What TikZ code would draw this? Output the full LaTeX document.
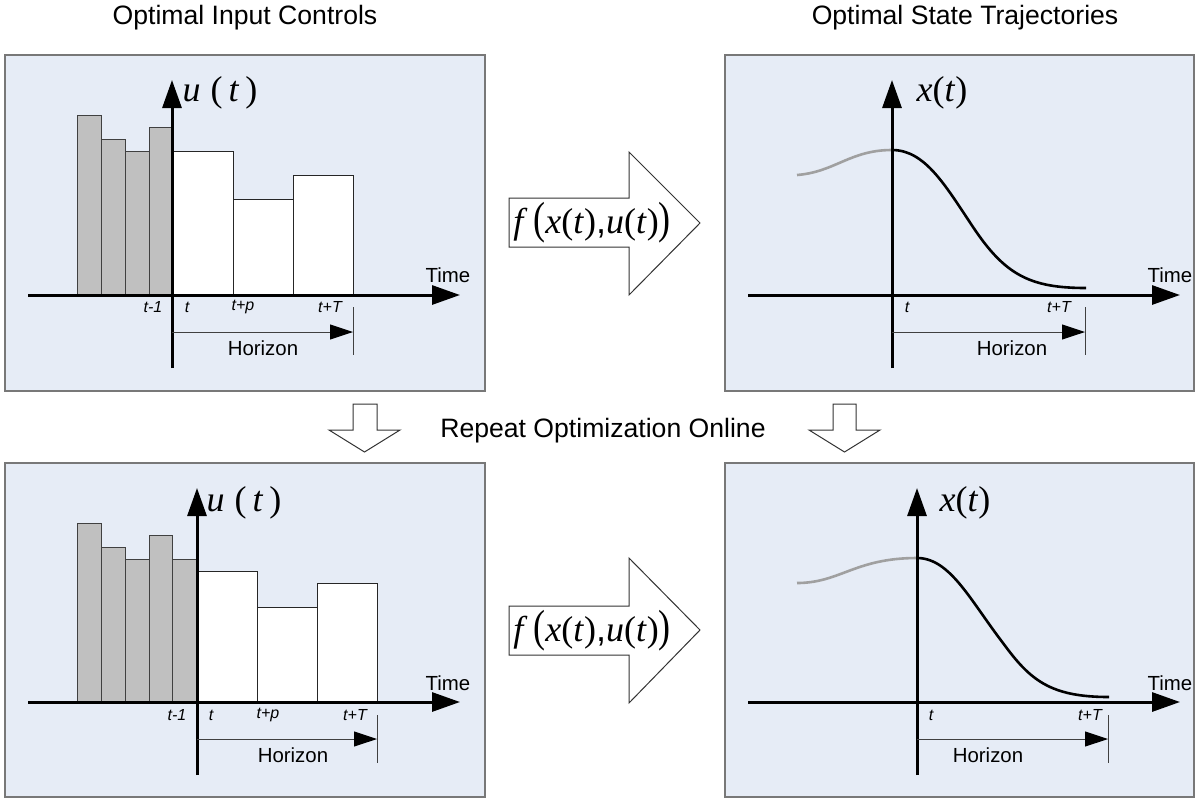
\documentclass[tikz,border=0pt]{standalone}
\usepackage{fontspec}
\usepackage{graphicx}
\setmainfont{Liberation Sans}
\newfontfamily\tnr{Liberation Serif}
\usetikzlibrary{arrows.meta}
\definecolor{panelfill}{RGB}{230,236,246}
\definecolor{panelline}{RGB}{120,120,120}
\definecolor{barfill}{RGB}{192,192,192}
\definecolor{pastcurve}{RGB}{160,160,160}
\definecolor{hzline}{RGB}{64,64,64}
\newcommand{\mvar}[1]{{\tnr\itshape #1\/}}
\newcommand{\mpar}[1]{{\tnr #1}}
\newcommand{\bigpar}[1]{\scalebox{1}[1.25]{\mpar{#1}}}
\begin{document}
\begin{tikzpicture}[x=0.5pt,y=-0.5pt,
  panel/.style={draw=panelline,line width=0.75pt,fill=panelfill},
  axis/.style={line width=1.5pt,-{Triangle[length=14pt,width=9.5pt]}},
  pastbar/.style={draw=black!75,line width=0.5pt,fill=barfill},
  futbar/.style={draw=black!85,line width=0.5pt,fill=white},
  hzarrow/.style={draw=hzline,line width=0.5pt,-{Triangle[length=11.5pt,width=7.5pt,color=black]}},
  hztick/.style={draw=hzline,line width=0.5pt},
  blockarrow/.style={draw=black!80,line width=0.5pt,fill=white},
  pastline/.style={draw=pastcurve,line width=1.3pt},
  futline/.style={draw=black,line width=1.3pt},
  titletext/.style={font=\fontsize{13.3pt}{16pt}\selectfont,inner sep=0pt},
  labtext/.style={font=\fontsize{10.2pt}{12pt}\selectfont,inner sep=0pt},
  ticktext/.style={font=\fontsize{8pt}{9.5pt}\selectfont\itshape,inner sep=0pt},
  mathtext/.style={font=\fontsize{18pt}{20pt}\selectfont,inner sep=0pt}
]
\useasboundingbox (0,0) rectangle (1199,799);

% titles
\node[titletext] (t1) at (245,18) {Optimal Input Controls};
\node[titletext] (t2) at (965,18) {Optimal State Trajectories};
\node[titletext] (rep) at (603,431) {Repeat Optimization Online};

% panels
\draw[panel] (5,55) rectangle (485,391);
\draw[panel] (725,55) rectangle (1194,391);
\draw[panel] (5,463) rectangle (485,797);
\draw[panel] (725,463) rectangle (1194,797);

%% ---------- top-left panel ----------
\draw[pastbar] (77,295) rectangle (101,115);
\draw[pastbar] (101,295) rectangle (125,139);
\draw[pastbar] (125,295) rectangle (149,151);
\draw[pastbar] (149,295) rectangle (172,127);
\draw[futbar] (172,295) rectangle (233,151);
\draw[futbar] (233,295) rectangle (293,199);
\draw[futbar] (293,295) rectangle (353,175);
\coordinate (axl) at (28,295);
\coordinate (axr) at (460,295);
\coordinate (ayb) at (172,368);
\coordinate (ayt) at (172,80);
\draw[axis] (axl) -- (axr);
\draw[axis] (ayb) -- (ayt);
\node[mathtext] (ua) at (220,93) {\mvar{u}\;\mpar{(}\,\mvar{t}\,\mpar{)}};
\node[labtext] (timea) at (448,275) {Time};
\node[ticktext] (ta1) at (153,307) {t-1};
\node[ticktext] (ta2) at (187,307) {t};
\node[ticktext] (ta3) at (243,307) {t+p};
\node[ticktext] (ta4) at (330,307) {t+T};
\coordinate (ahs) at (172,332);
\coordinate (ahe) at (353,332);
\coordinate (ahtt) at (353,307);
\coordinate (ahtb) at (353,355);
\draw[hzarrow] (ahs) -- (ahe);
\draw[hztick] (ahtt) -- (ahtb);
\node[labtext] (hza) at (263,348) {Horizon};

%% ---------- top-right panel ----------
\coordinate (bxl) at (748,295);
\coordinate (bxr) at (1180,295);
\coordinate (byb) at (892,368);
\coordinate (byt) at (892,80);
\coordinate (bc0) at (797,175);
\coordinate (bc1) at (892,150);
\coordinate (bc2) at (973,227);
\coordinate (bc3) at (1086,288);
\draw[pastline] (bc0) .. controls (835,172) and (850,150) .. (bc1);
\draw[futline] (bc1) .. controls (925,150) and (945,185) .. (bc2) .. controls (1005,275) and (1030,288) .. (bc3);
\draw[axis] (bxl) -- (bxr);
\draw[axis] (byb) -- (byt);
\node[mathtext] (xb) at (942,93) {\mvar{x}\mpar{(}\mvar{t}\mpar{)}};
\node[labtext] (timeb) at (1170,275) {Time};
\node[ticktext] (tb1) at (907,307) {t};
\node[ticktext] (tb2) at (1059,307) {t+T};
\coordinate (bhs) at (892,332);
\coordinate (bhe) at (1085,332);
\coordinate (bhtt) at (1085,307);
\coordinate (bhtb) at (1085,355);
\draw[hzarrow] (bhs) -- (bhe);
\draw[hztick] (bhtt) -- (bhtb);
\node[labtext] (hzb) at (1012,348) {Horizon};

%% ---------- bottom-left panel ----------
\draw[pastbar] (77,702) rectangle (101,523);
\draw[pastbar] (101,702) rectangle (125,547);
\draw[pastbar] (125,702) rectangle (149,559);
\draw[pastbar] (149,702) rectangle (172,535);
\draw[pastbar] (172,702) rectangle (197,559);
\draw[futbar] (197,702) rectangle (257,571);
\draw[futbar] (257,702) rectangle (317,607);
\draw[futbar] (317,702) rectangle (377,583);
\coordinate (cxl) at (28,702);
\coordinate (cxr) at (460,702);
\coordinate (cyb) at (197,775);
\coordinate (cyt) at (197,488);
\draw[axis] (cxl) -- (cxr);
\draw[axis] (cyb) -- (cyt);
\node[mathtext] (uc) at (244,503) {\mvar{u}\;\mpar{(}\,\mvar{t}\,\mpar{)}};
\node[labtext] (timec) at (448,683) {Time};
\node[ticktext] (tc1) at (177,715) {t-1};
\node[ticktext] (tc2) at (211,715) {t};
\node[ticktext] (tc3) at (268,715) {t+p};
\node[ticktext] (tc4) at (355,715) {t+T};
\coordinate (chs) at (197,739);
\coordinate (che) at (377,739);
\coordinate (chtt) at (377,715);
\coordinate (chtb) at (377,763);
\draw[hzarrow] (chs) -- (che);
\draw[hztick] (chtt) -- (chtb);
\node[labtext] (hzc) at (293,755) {Horizon};

%% ---------- bottom-right panel ----------
\coordinate (dxl) at (748,702);
\coordinate (dxr) at (1180,702);
\coordinate (dyb) at (917,775);
\coordinate (dyt) at (917,488);
\coordinate (dc0) at (797,583);
\coordinate (dc1) at (917,558);
\coordinate (dc2) at (1003,643);
\coordinate (dc3) at (1109,697);
\draw[pastline] (dc0) .. controls (840,583) and (855,558) .. (dc1);
\draw[futline] (dc1) .. controls (950,558) and (970,600) .. (dc2) .. controls (1030,680) and (1050,697) .. (dc3);
\draw[axis] (dxl) -- (dxr);
\draw[axis] (dyb) -- (dyt);
\node[mathtext] (xd) at (965,503) {\mvar{x}\mpar{(}\mvar{t}\mpar{)}};
\node[labtext] (timed) at (1170,683) {Time};
\node[ticktext] (td1) at (931,715) {t};
\node[ticktext] (td2) at (1090,715) {t+T};
\coordinate (dhs) at (917,739);
\coordinate (dhe) at (1108,739);
\coordinate (dhtt) at (1108,715);
\coordinate (dhtb) at (1108,763);
\draw[hzarrow] (dhs) -- (dhe);
\draw[hztick] (dhtt) -- (dhtb);
\node[labtext] (hzd) at (988,755) {Horizon};

%% ---------- block arrows ----------
\draw[blockarrow] (509,198) -- (629,198) -- (629,152) -- (700,223) -- (629,295) -- (629,247) -- (509,247) -- cycle;
\node[mathtext] (fa) at (592,223) {\mvar{f}\,\bigpar{(}\mvar{x}\mpar{(}\mvar{t}\mpar{)},\mvar{u}\mpar{(}\mvar{t}\mpar{)}\bigpar{)}};
\draw[blockarrow] (509,606) -- (629,606) -- (629,558) -- (700,630) -- (629,703) -- (629,655) -- (509,655) -- cycle;
\node[mathtext] (fb) at (592,631) {\mvar{f}\,\bigpar{(}\mvar{x}\mpar{(}\mvar{t}\mpar{)},\mvar{u}\mpar{(}\mvar{t}\mpar{)}\bigpar{)}};

%% down arrows
\draw[blockarrow] (353,404) -- (377,404) -- (377,430) -- (400,430) -- (364.5,452) -- (329,430) -- (353,430) -- cycle;
\draw[blockarrow] (833,404) -- (856,404) -- (856,430) -- (880,430) -- (844.5,452) -- (809,430) -- (833,430) -- cycle;
\end{tikzpicture}
\end{document}
